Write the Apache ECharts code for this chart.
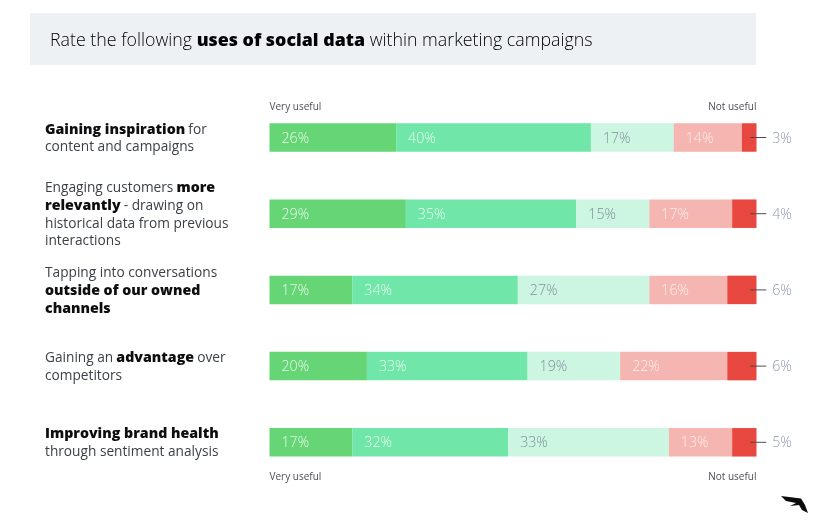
<!DOCTYPE html>
<html><head><meta charset="utf-8">
<script src="https://cdn.jsdelivr.net/npm/echarts@6/dist/echarts.min.js"></script>
<style>html,body{margin:0;padding:0;background:#fff}#c{width:830px;height:530px}</style>
</head><body><div id="c"></div>
<script>
const categories = [
  '{b|Gaining inspiration} {n|for}\n{n|content and campaigns}',
  '{n|Engaging customers} {b|more}\n{b|relevantly} {n|- drawing on}\n{n|historical data from previous}\n{n|interactions}',
  '{n|Tapping into conversations}\n{b|outside of our owned}\n{b|channels}',
  '{n|Gaining an} {b|advantage} {n|over}\n{n|competitors}',
  '{b|Improving brand health}\n{n|through sentiment analysis}'
];
// Segment lengths as drawn in the picture
const drawn1 = [26, 28, 17, 20, 17];
const drawn2 = [40, 35, 34, 33, 32];
const drawn3 = [17, 15, 27, 19, 33];
const drawn4 = [14, 17, 16, 22, 13];
const drawn5 = [3, 5, 6, 6, 5];
// Percentages as printed in the picture
const printed1 = [26, 29, 17, 20, 17];
const printed2 = [40, 35, 34, 33, 32];
const printed3 = [17, 15, 27, 19, 33];
const printed4 = [14, 17, 16, 22, 13];
const printed5 = [3, 4, 6, 6, 5];
const leaderFrom = [98.7, 98.7, 98.7, 98.7, 98.7];
const leaderTo = [102, 102, 102, 102, 102];
const titleText = '{n|Rate the following} {b|uses of social data} {n|within marketing campaigns}';
const axisStart = 'Very useful';
const axisEnd = 'Not useful';

const FONT = '"Open Sans"';
const chart = echarts.init(document.getElementById('c'), null, {renderer:'canvas'});
function seg(name, drawn, printed, color, labelColor){
  return {
    name, type:'bar', stack:'a', barWidth:28.5, data:drawn, silent:true,
    itemStyle:{color},
    label:{show:!!labelColor, position:'insideLeft', distance:12, fontFamily:FONT, fontSize:14.2, fontWeight:300,
      offset:[0,1], color:labelColor, formatter:p=>printed[p.dataIndex]+'%'}
  };
}
chart.setOption({
  animation:false, backgroundColor:'#fff',
  grid:{left:269.5, right:73.5, top:99.4, height:381},
  xAxis:{type:'value', min:0, max:100, show:false},
  yAxis:{type:'category', inverse:true, data:categories,
    axisLine:{show:false}, axisTick:{show:false},
    axisLabel:{align:'left', margin:224.5, interval:0, fontFamily:FONT, lineHeight:18,
      padding:[2,0,0,0],
      formatter:v=>v,
      rich:{
        n:{fontFamily:FONT, fontSize:13.7, color:'#3c4147', lineHeight:17.7},
        b:{fontFamily:FONT, fontSize:14.2, fontWeight:800, color:'#0e0e10', lineHeight:17.7}
      }}},
  series:[
    seg('s1', drawn1, printed1, '#66d575', '#eafaec'),
    seg('s2', drawn2, printed2, '#70e6a8', '#eafbf2'),
    seg('s3', drawn3, printed3, '#cdf6e2', '#7f909a'),
    seg('s4', drawn4, printed4, '#f5b5b0', '#fdeeec'),
    seg('s5', drawn5, printed5, '#e8483f', null),
    {type:'custom', silent:true, clip:false, z:5,
     data:categories.map((c,i)=>[leaderFrom[i], leaderTo[i], i, printed5[i]]),
     encode:{x:[0,1], y:2},
     renderItem:(params, api)=>{
       const a = api.coord([api.value(0), api.value(2)]);
       const b = api.coord([api.value(1), api.value(2)]);
       return {type:'group', children:[
         {type:'line', shape:{x1:a[0], y1:a[1], x2:b[0], y2:b[1]}, style:{stroke:'#55484e', lineWidth:1}},
         {type:'text', style:{x:b[0]+6, y:b[1]+1, text:api.value(3)+'%', fill:'#8f99b2',
            font:'300 14.2px '+FONT, textAlign:'left', textVerticalAlign:'middle'}}
       ]};
     }}
  ],
  graphic:[
    {type:'rect', z:-1, shape:{x:30, y:13, width:726, height:52}, style:{fill:'#edf1f4'}},
    {type:'text', left:50, top:31.5, style:{text:titleText, font:'18px '+FONT,
      rich:{n:{fontFamily:FONT, fontSize:17.8, fontWeight:300, color:'#1e2226'}, b:{fontFamily:FONT, fontSize:17.8, fontWeight:800, color:'#0e0e10'}}}},
    {type:'text', x:269.5, y:107, style:{text:axisStart, font:'10px '+FONT, fill:'#4b4f58', textAlign:'left', textVerticalAlign:'middle'}},
    {type:'text', x:756.5, y:107, style:{text:axisEnd, font:'10px '+FONT, fill:'#4b4f58', textAlign:'right', textVerticalAlign:'middle'}},
    {type:'text', x:269.5, y:477, style:{text:axisStart, font:'10px '+FONT, fill:'#4b4f58', textAlign:'left', textVerticalAlign:'middle'}},
    {type:'text', x:756.5, y:477, style:{text:axisEnd, font:'10px '+FONT, fill:'#4b4f58', textAlign:'right', textVerticalAlign:'middle'}},
    {type:'polygon', shape:{points:[[781,496],[801,498.5],[805,505],[808,513],[802,510],[799,505],[790,506],[796,503],[786,501]]}, style:{fill:'#0c0c0e'}}
  ]
});
</script></body></html>
